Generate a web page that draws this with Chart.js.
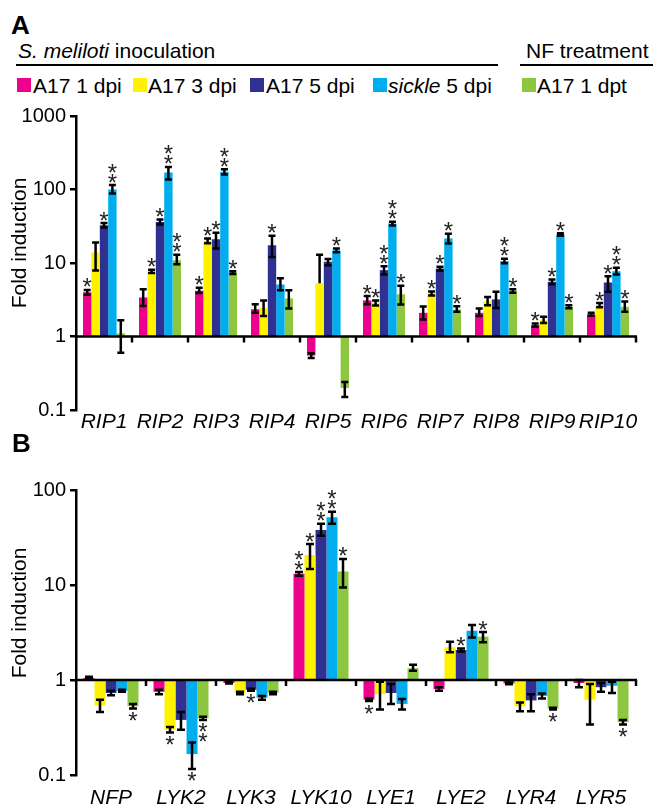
<!DOCTYPE html>
<html>
<head>
<meta charset="utf-8">
<script src="https://cdn.jsdelivr.net/npm/chart.js@4.4.1/dist/chart.umd.min.js"></script>
<style>
body { margin: 0; background: #fff; font-family: Arial, "Liberation Sans", sans-serif; }
#wrap { position: relative; width: 653px; height: 805px; overflow: hidden; }
.t { position: absolute; font-size: 21px; line-height: 21px; white-space: nowrap; color: #000; }
.panel { position: absolute; font-size: 26px; line-height: 26px; font-weight: bold; }
.sq { position: absolute; width: 14px; height: 14px; top: 78px; }
.rule { position: absolute; height: 2px; top: 64px; background: #000; }
canvas { position: absolute; left: 0; }
</style>
</head>
<body>
<div id="wrap">
  <div class="panel" style="left:11px;top:12px;">A</div>
  <div class="t" style="left:18px;top:40px;"><i>S. meliloti</i> inoculation</div>
  <div class="t" style="left:526px;top:40px;">NF treatment</div>
  <div class="rule" style="left:16px;width:482px;"></div>
  <div class="rule" style="left:520px;width:133px;"></div>

  <div class="sq" style="left:17px;background:#EC008C;"></div>
  <div class="t" style="left:33px;top:75px;">A17 1 dpi</div>
  <div class="sq" style="left:133px;background:#FFF200;"></div>
  <div class="t" style="left:148px;top:75px;">A17 3 dpi</div>
  <div class="sq" style="left:250px;background:#2E3192;"></div>
  <div class="t" style="left:266px;top:75px;">A17 5 dpi</div>
  <div class="sq" style="left:373px;background:#00AEEF;"></div>
  <div class="t" style="left:388px;top:75px;"><i>sickle</i> 5 dpi</div>
  <div class="sq" style="left:522px;background:#8DC63F;"></div>
  <div class="t" style="left:537px;top:75px;">A17 1 dpt</div>

  <canvas id="chartA" width="653" height="340" style="top:100px;"></canvas>
  <div class="panel" style="left:12px;top:430px;">B</div>
  <canvas id="chartB" width="653" height="335" style="top:470px;"></canvas>
</div>
<script>
// series shared by both panels
const seriesNames = ['A17 1 dpi', 'A17 3 dpi', 'A17 5 dpi', 'sickle 5 dpi', 'A17 1 dpt'];
const seriesColors = ['#EC008C', '#FFF200', '#2E3192', '#00AEEF', '#8DC63F'];

// Panel A - RIP genes
const ripGenes = ['RIP1', 'RIP2', 'RIP3', 'RIP4', 'RIP5', 'RIP6', 'RIP7', 'RIP8', 'RIP9', 'RIP10'];
const ripTicks = [0.1, 1, 10, 100, 1000];

const ripA17_1dpi = [4.0, 3.4, 4.2, 2.35, 0.55, 3.1, 2.1, 2.1, 1.43, 2.0];
const ripA17_1dpiErr = [[3.7, 4.3], [2.6, 4.4], [3.9, 4.6], [2.1, 2.75], [0.51, 0.59], [2.75, 3.55], [1.7, 2.55], [1.9, 2.4], [1.36, 1.5], [1.92, 2.1]];
const ripA17_1dpiStars = [1, 0, 1, 0, 0, 1, 0, 0, 1, 0];

const ripA17_3dpi = [13.9, 7.7, 20, 2.45, 5.3, 2.87, 3.85, 3.0, 1.67, 2.67];
const ripA17_3dpiErr = [[7.9, 19], [7.3, 8.1], [18.5, 21.5], [1.9, 3.1], [5.3, 13], [2.65, 3.1], [3.6, 4.1], [2.67, 3.46], [1.53, 1.85], [2.5, 2.85]];
const ripA17_3dpiStars = [0, 1, 1, 0, 0, 1, 1, 0, 0, 1];

const ripA17_5dpi = [32.7, 36, 21, 17.5, 10.4, 8.0, 8.4, 3.2, 5.55, 5.43];
const ripA17_5dpiErr = [[30.5, 35], [33.5, 39], [15.8, 25.7], [12.1, 23.4], [9.3, 11.3], [7.0, 9.0], [7.9, 8.9], [2.45, 4.05], [5.15, 5.95], [4.05, 6.6]];
const ripA17_5dpiStars = [1, 1, 1, 1, 0, 2, 1, 0, 1, 1];

const ripSickle5dpi = [100, 170, 174, 5.1, 14.9, 34.5, 21.5, 10.6, 24.4, 7.7];
const ripSickle5dpiErr = [[88, 115], [137, 203], [160, 188], [4.26, 6.2], [14, 15.8], [32.5, 36.5], [18.4, 25], [9.9, 11.4], [23.5, 25.3], [7.0, 8.6]];
const ripSickle5dpiStars = [2, 2, 2, 0, 1, 2, 1, 2, 1, 2];

const ripA17_1dpt = [1.1, 10.9, 7.4, 3.3, 0.2, 3.76, 2.33, 4.18, 2.54, 2.54];
const ripA17_1dptErr = [[0.6, 1.67], [9.6, 13], [7.1, 7.7], [2.4, 4.26], [0.15, 0.24], [2.73, 4.9], [2.17, 2.58], [3.95, 4.4], [2.42, 2.66], [2.17, 3.0]];
const ripA17_1dptStars = [0, 2, 1, 0, 0, 1, 1, 1, 1, 1];

// Panel B - LysM receptor genes
const lysGenes = ['NFP', 'LYK2', 'LYK3', 'LYK10', 'LYE1', 'LYE2', 'LYR4', 'LYR5'];
const lysTicks = [0.1, 1, 10, 100];

const lysA17_1dpi = [1.05, 0.75, 0.93, 13.1, 0.62, 0.8, 0.92, 0.93];
const lysA17_1dpiErr = [[1.02, 1.08], [0.71, 0.79], [0.92, 0.95], [12.5, 13.7], [0.6, 0.64], [0.77, 0.84], [0.9, 0.94], [0.84, 1.0]];
const lysA17_1dpiStars = [0, 0, 0, 2, 1, 0, 0, 0];

const lysA17_3dpi = [0.54, 0.30, 0.73, 20.7, 0.71, 2.21, 0.53, 0.62];
const lysA17_3dpiErr = [[0.46, 0.62], [0.28, 0.32], [0.71, 0.75], [14.7, 27], [0.49, 0.96], [1.96, 2.53], [0.47, 0.58], [0.34, 0.91]];
const lysA17_3dpiStars = [0, 1, 0, 1, 0, 0, 0, 0];

const lysA17_5dpi = [0.73, 0.38, 0.79, 38, 0.73, 2.07, 0.61, 0.84];
const lysA17_5dpiErr = [[0.69, 0.77], [0.30, 0.46], [0.77, 0.81], [33, 44], [0.56, 0.91], [2.0, 2.14], [0.47, 0.71], [0.75, 0.93]];
const lysA17_5dpiStars = [0, 0, 1, 2, 0, 1, 0, 0];

const lysSickle5dpi = [0.77, 0.166, 0.65, 51.6, 0.56, 3.3, 0.68, 0.87];
const lysSickle5dpiErr = [[0.75, 0.79], [0.116, 0.22], [0.62, 0.68], [44, 59], [0.49, 0.63], [2.8, 3.8], [0.64, 0.72], [0.73, 0.96]];
const lysSickle5dpiStars = [0, 1, 0, 2, 0, 0, 0, 0];

const lysA17_1dpt = [0.53, 0.395, 0.73, 13.9, 1.33, 2.86, 0.50, 0.36];
const lysA17_1dptErr = [[0.50, 0.56], [0.38, 0.41], [0.71, 0.75], [9.4, 18.8], [1.25, 1.45], [2.5, 3.2], [0.49, 0.51], [0.34, 0.38]];
const lysA17_1dptStars = [1, 2, 0, 1, 0, 1, 1, 1];

const FONT = 'Arial, "Liberation Sans", sans-serif';
Chart.defaults.font.family = FONT;
Chart.defaults.color = '#000';

// axis line at 1, group ticks, error bars, asterisks, y title
const decorPlugin = {
    id: 'decor',
    afterDatasetsDraw(chart, args, opts) {
        const ctx = chart.ctx;
        const area = chart.chartArea;
        const xs = chart.scales.x;
        const ys = chart.scales.y;
        const y1 = ys.getPixelForValue(1);

        ctx.save();
        ctx.strokeStyle = '#000';
        ctx.lineWidth = 2.5;
        ctx.beginPath();
        ctx.moveTo(area.left, y1);
        ctx.lineTo(area.right + 1, y1);
        const step = xs.getPixelForTick(1) - xs.getPixelForTick(0);
        for (let i = 0; i < xs.ticks.length; i++) {
            const bx = xs.getPixelForTick(i) + step / 2;
            ctx.moveTo(bx, y1);
            ctx.lineTo(bx, y1 + 6);
        }
        ctx.stroke();

        ctx.font = '24px ' + FONT;
        ctx.fillStyle = '#222';
        ctx.textAlign = 'center';
        ctx.textBaseline = 'alphabetic';
        const m = ctx.measureText('*');
        const starShift = (m.actualBoundingBoxDescent - m.actualBoundingBoxAscent) / 2;

        chart.data.datasets.forEach((ds, d) => {
            const meta = chart.getDatasetMeta(d);
            meta.data.forEach((bar, i) => {
                const v = ds.data[i][1];
                const lo = ds.err[i][0];
                const hi = ds.err[i][1];
                const px = bar.x;
                const pLo = ys.getPixelForValue(lo);
                const pHi = ys.getPixelForValue(hi);
                const half = opts.cap / 2;

                ctx.lineWidth = 2.5;
                ctx.beginPath();
                ctx.moveTo(px, pHi);
                ctx.lineTo(px, pLo);
                ctx.moveTo(px - half, pHi);
                ctx.lineTo(px + half, pHi);
                if (lo < v) {
                    ctx.moveTo(px - half, pLo);
                    ctx.lineTo(px + half, pLo);
                }
                ctx.stroke();

                const n = ds.stars[i];
                for (let k = 0; k < n; k++) {
                    const cy = v >= 1 ? pHi - 7 - k * 10 : pLo + 8 + k * 10;
                    ctx.fillText('*', px, cy - starShift);
                }
            });
        });

        ctx.font = '21px ' + FONT;
        ctx.fillStyle = '#000';
        ctx.translate(26, opts.titleY);
        ctx.rotate(-Math.PI / 2);
        ctx.fillText('Fold induction', 0, 0);
        ctx.restore();
    }
};

function makeChart(id, genes, values, errs, stars, yMax, yTicks, cfg) {
    return new Chart(document.getElementById(id), {
        type: 'bar',
        data: {
            labels: genes,
            datasets: values.map((vals, s) => ({
                label: seriesNames[s],
                data: vals.map(v => [1, v]),
                backgroundColor: seriesColors[s],
                borderWidth: 0,
                err: errs[s],
                stars: stars[s],
                categoryPercentage: cfg.catPct,
                barPercentage: 1
            }))
        },
        options: {
            responsive: false,
            animation: false,
            layout: { padding: { top: cfg.padTop, right: 17, left: 0, bottom: 0 } },
            plugins: {
                legend: { display: false },
                tooltip: { enabled: false },
                decor: { cap: cfg.cap, titleY: 143 }
            },
            scales: {
                x: {
                    grid: { display: false, drawTicks: false },
                    border: { display: false },
                    ticks: {
                        font: { size: 21, style: 'italic' },
                        color: '#000',
                        padding: cfg.labelPad,
                        maxRotation: 0,
                        minRotation: 0,
                        autoSkip: false
                    },
                    afterFit: s => { s.height = 30; }
                },
                y: {
                    type: 'logarithmic',
                    min: 0.1,
                    max: yMax,
                    afterBuildTicks: s => { s.ticks = yTicks.map(v => ({ value: v })); },
                    ticks: {
                        callback: v => String(v),
                        font: { size: 20 },
                        color: '#000',
                        padding: 4
                    },
                    grid: { drawOnChartArea: false, color: '#000', lineWidth: 2.5, tickLength: 6 },
                    border: { color: '#000', width: 2.5 },
                    afterFit: s => { s.width = 76; }
                }
            }
        },
        plugins: [decorPlugin]
    });
}

makeChart('chartA', ripGenes,
    [ripA17_1dpi, ripA17_3dpi, ripA17_5dpi, ripSickle5dpi, ripA17_1dpt],
    [ripA17_1dpiErr, ripA17_3dpiErr, ripA17_5dpiErr, ripSickle5dpiErr, ripA17_1dptErr],
    [ripA17_1dpiStars, ripA17_3dpiStars, ripA17_5dpiStars, ripSickle5dpiStars, ripA17_1dptStars],
    1000, ripTicks, { catPct: 0.75, padTop: 16, cap: 7, labelPad: 0 });

makeChart('chartB', lysGenes,
    [lysA17_1dpi, lysA17_3dpi, lysA17_5dpi, lysSickle5dpi, lysA17_1dpt],
    [lysA17_1dpiErr, lysA17_3dpiErr, lysA17_5dpiErr, lysSickle5dpiErr, lysA17_1dptErr],
    [lysA17_1dpiStars, lysA17_3dpiStars, lysA17_5dpiStars, lysSickle5dpiStars, lysA17_1dptStars],
    100, lysTicks, { catPct: 0.786, padTop: 20, cap: 8, labelPad: 11 });
</script>
</body>
</html>
